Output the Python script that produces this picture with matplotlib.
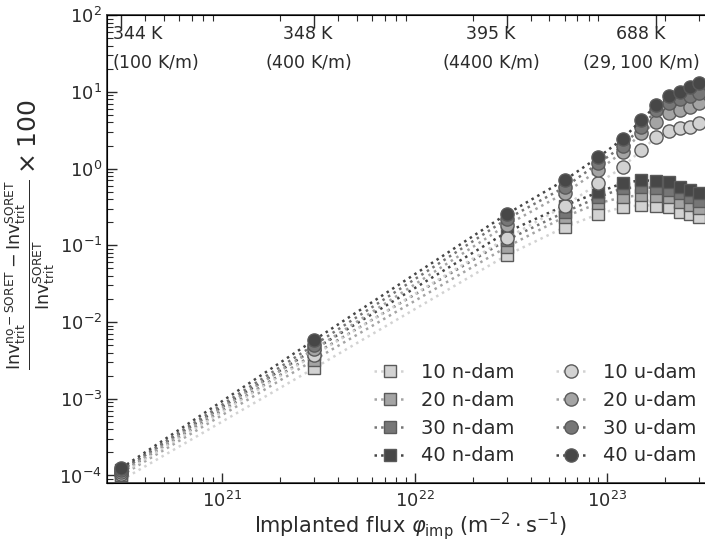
"""Relative tritium inventory difference (no-Soret vs Soret) against implanted flux."""

import matplotlib

matplotlib.use("Agg")
import matplotlib.pyplot as plt


# implanted flux values (m^-2 s^-1)
FLUX = [3e20, 3e21, 3e22, 6e22, 9e22, 1.2e23, 1.5e23, 1.8e23, 2.1e23, 2.4e23, 2.7e23, 3e23]

# n-dam series (squares)
N_DAM_10 = [8.7e-5, 2.5e-3, 0.074, 0.172, 0.255, 0.314, 0.333, 0.33, 0.314, 0.270, 0.255, 0.232]
N_DAM_20 = [1.0e-4, 3.2e-3, 0.095, 0.235, 0.354, 0.424, 0.450, 0.44, 0.424, 0.365, 0.333, 0.305]
N_DAM_30 = [1.1e-4, 3.8e-3, 0.117, 0.270, 0.424, 0.555, 0.572, 0.56, 0.523, 0.478, 0.424, 0.376]
N_DAM_40 = [1.18e-4, 4.4e-3, 0.148, 0.330, 0.492, 0.645, 0.706, 0.69, 0.665, 0.572, 0.523, 0.478]

# u-dam series (circles)
U_DAM_10 = [1.05e-4, 3.7e-3, 0.124, 0.324, 0.645, 1.04, 1.74, 2.57, 3.07, 3.37, 3.47, 3.9]
U_DAM_20 = [1.12e-4, 4.4e-3, 0.183, 0.478, 0.95, 1.64, 2.9, 4.0, 5.3, 5.8, 6.3, 7.1]
U_DAM_30 = [1.18e-4, 5.0e-3, 0.219, 0.572, 1.17, 1.96, 3.47, 5.8, 7.1, 8.0, 8.8, 9.6]
U_DAM_40 = [1.25e-4, 5.8e-3, 0.255, 0.706, 1.41, 2.42, 4.3, 6.7, 8.8, 9.9, 11.5, 13.0]

N_LABELS = ["10 n-dam", "20 n-dam", "30 n-dam", "40 n-dam"]
U_LABELS = ["10 u-dam", "20 u-dam", "30 u-dam", "40 u-dam"]
GREYS = ["#d2d2d2", "#a4a4a4", "#767676", "#474747"]

# top axis: surface temperature and gradient at selected fluxes
TOP_TICKS = [3e20, 3e21, 3e22, 1.8e23]
TOP_LABELS = [
    r"$\mathrm{344\ K}$" + "\n" + r"$\mathrm{(100\ K/m)}$",
    r"$\mathrm{348\ K}$" + "\n" + r"$\mathrm{(400\ K/m)}$",
    r"$\mathrm{395\ K}$" + "\n" + r"$\mathrm{(4400\ K/m)}$",
    r"$\mathrm{688\ K}$" + "\n" + r"$\mathrm{(29,100\ K/m)}$",
]
# label nudges (points) and alignment, as placed in the original figure
TOP_LABEL_SHIFT = [-7, -4, -11, -11]
TOP_LABEL_HA = ["left", "center", "center", "center"]

TEXT_COLOR = "#2b2b2b"


def main() -> None:
    plt.rcParams["font.family"] = ["DejaVu Sans"]
    plt.rcParams["text.color"] = TEXT_COLOR
    plt.rcParams["axes.labelcolor"] = TEXT_COLOR
    plt.rcParams["xtick.color"] = TEXT_COLOR
    plt.rcParams["ytick.color"] = TEXT_COLOR

    figure = plt.figure(figsize=(7.05, 5.42), dpi=100)
    axis = figure.add_axes([0.152, 0.109, 0.86, 0.863])

    n_series = [N_DAM_10, N_DAM_20, N_DAM_30, N_DAM_40]
    u_series = [U_DAM_10, U_DAM_20, U_DAM_30, U_DAM_40]

    for values, label, grey in zip(n_series, N_LABELS, GREYS):
        axis.plot(
            FLUX, values, linestyle=":", linewidth=1.8, color=grey,
            marker="s", markersize=9, markerfacecolor=grey,
            markeredgecolor="#5a5a5a", markeredgewidth=1, label=label,
        )
    for values, label, grey in zip(u_series, U_LABELS, GREYS):
        axis.plot(
            FLUX, values, linestyle=":", linewidth=1.8, color=grey,
            marker="o", markersize=9.5, markerfacecolor=grey,
            markeredgecolor="#5a5a5a", markeredgewidth=1, label=label,
        )

    axis.set_xscale("log")
    axis.set_yscale("log")
    axis.set_xlim(2.53e20, 3.56e23)
    axis.set_ylim(8e-5, 100)

    axis.set_xlabel(
        r"Implanted flux $\varphi_{\mathrm{imp}}$ ($\mathrm{m^{-2}\cdot s^{-1}}$)",
        fontsize=15, labelpad=-1,
    )
    axis.set_ylabel(
        r"$\frac{\mathrm{Inv}_{\mathrm{trit}}^{\mathrm{no-SORET}}"
        r" - \mathrm{Inv}_{\mathrm{trit}}^{\mathrm{SORET}}}"
        r"{\mathrm{Inv}_{\mathrm{trit}}^{\mathrm{SORET}}} \times 100$",
        fontsize=18,
    )
    axis.yaxis.set_label_coords(-0.082, 0.53)

    axis.tick_params(which="both", direction="in", labelsize=13)
    axis.tick_params(which="major", length=7, width=1)
    axis.tick_params(which="minor", length=4, width=0.8)
    axis.tick_params(axis="x", which="major", pad=6)
    axis.tick_params(axis="x", which="both", top=False)
    for spine in axis.spines.values():
        spine.set_color("#444444")
        spine.set_linewidth(1.3)

    top_axis = axis.twiny()
    top_axis.set_xscale("log")
    top_axis.set_xlim(axis.get_xlim())
    top_axis.set_xticks(TOP_TICKS)
    top_axis.set_xticklabels([])
    top_axis.tick_params(which="both", direction="in")
    top_axis.tick_params(which="major", length=9, width=1)
    top_axis.tick_params(which="minor", length=4, width=0.8)

    for flux, text, shift, align in zip(TOP_TICKS, TOP_LABELS, TOP_LABEL_SHIFT, TOP_LABEL_HA):
        axis.annotate(
            text, xy=(flux, 1.0), xycoords=("data", "axes fraction"),
            xytext=(shift, -7), textcoords="offset points",
            ha=align, va="top", multialignment=align,
            fontsize=12.5, linespacing=1.55,
        )

    axis.legend(
        loc="lower right", bbox_to_anchor=(1.0, 0.0), ncol=2, frameon=False,
        fontsize=14, numpoints=1, handlelength=1.6, columnspacing=2.15,
        labelspacing=0.45,
    )

    figure.savefig("out.png", dpi=100)
    plt.close(figure)


if __name__ == "__main__":
    main()
